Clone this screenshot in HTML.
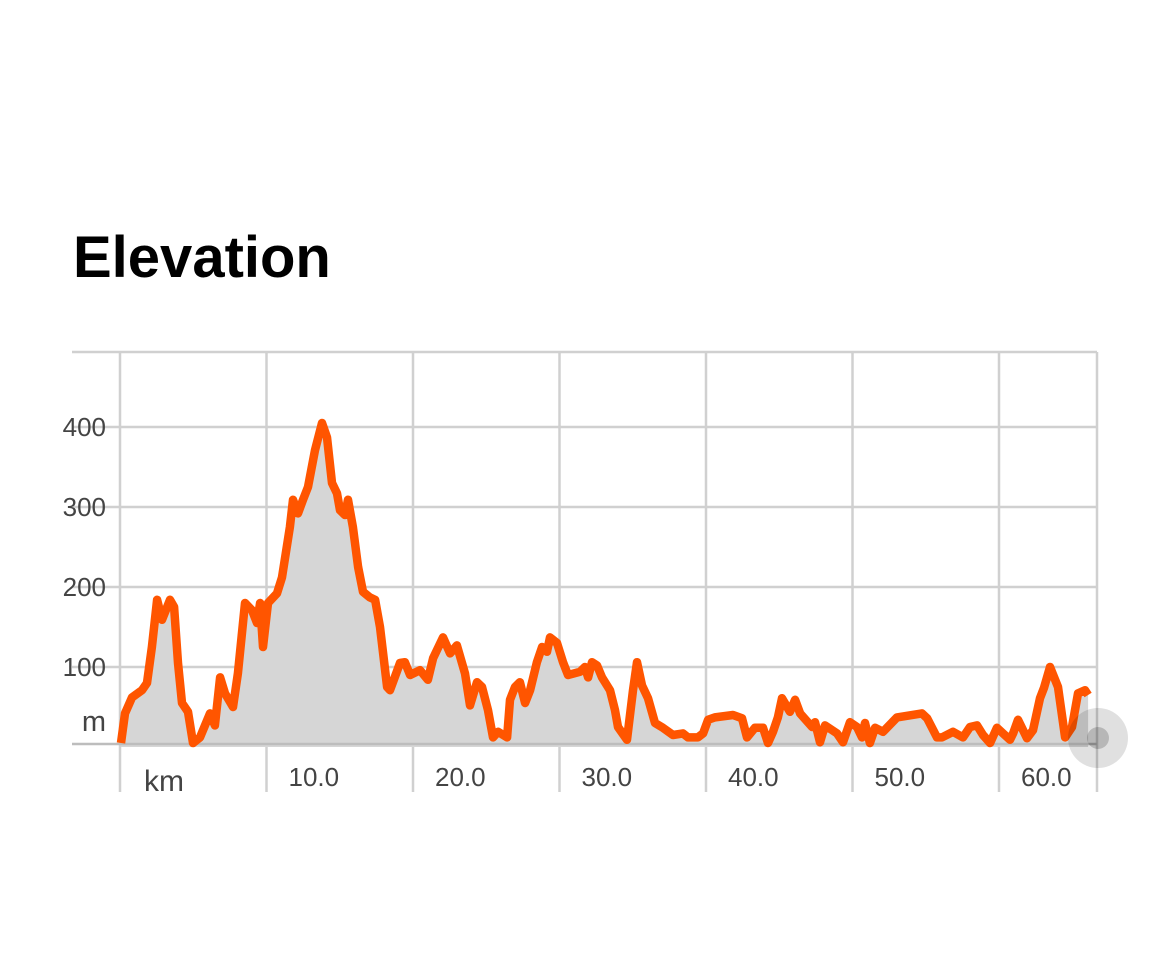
<!DOCTYPE html>
<html><head><meta charset="utf-8">
<style>
html,body{margin:0;padding:0;background:#fff;}
body{width:1170px;height:970px;overflow:hidden;font-family:"Liberation Sans",sans-serif;}
#title{position:absolute;left:73px;top:224px;font-size:58px;font-weight:bold;color:#000;margin:0;}
</style></head>
<body>
<h1 id="title">Elevation</h1>
<svg id="chart" width="1170" height="970" style="position:absolute;left:0;top:0" xmlns="http://www.w3.org/2000/svg"></svg>
<script>
const kmValues=[0.07,0.34,0.82,1.5,1.84,2.18,2.53,2.87,3.41,3.69,3.96,4.23,4.64,4.98,5.46,6.14,6.48,6.83,7.17,7.71,8.05,8.53,9.01,9.35,9.56,9.76,10.1,10.72,11.06,11.6,11.81,12.15,12.49,12.83,13.31,13.79,14.13,14.47,14.81,15.02,15.36,15.56,15.9,16.25,16.59,17.06,17.41,17.75,18.23,18.43,19.11,19.45,19.8,20.48,21.02,21.37,22.05,22.53,23.0,23.55,23.89,24.37,24.71,25.12,25.46,25.8,26.42,26.62,26.96,27.3,27.65,27.99,28.46,28.81,29.15,29.35,29.83,30.24,30.58,31.4,31.74,31.95,32.22,32.56,32.9,33.45,33.79,33.99,34.61,35.02,35.29,35.63,36.04,36.52,37.06,37.75,38.43,38.77,39.45,39.8,40.14,40.61,41.84,42.46,42.8,43.34,43.89,44.23,44.57,44.91,45.19,45.73,46.08,46.42,47.24,47.44,47.78,48.12,48.94,49.35,49.83,50.31,50.65,50.85,51.19,51.54,52.08,53.04,54.74,55.09,55.77,56.11,56.86,57.54,58.02,58.5,58.91,59.39,59.86,60.27,60.75,60.96,61.3,61.91,62.32,62.8,63.07,63.48,64.03,64.51,64.98,65.39,65.87,66.08];
const elevValues=[5,42,62,71,80,125,184,159,184,175,105,55,44,5,12,42,27,87,67,50,92,180,171,155,180,125,180,192,212,275,309,292,309,325,371,405,387,330,317,296,290,309,275,225,194,187,184,150,75,71,105,106,90,96,84,111,137,117,127,92,52,81,75,46,12,19,12,59,75,81,55,71,106,125,119,137,130,106,90,94,100,87,106,102,87,71,46,25,9,71,106,77,61,30,24,15,17,12,12,17,34,37,40,36,12,24,24,5,19,37,61,44,59,42,25,31,6,27,17,6,31,25,12,30,5,24,19,37,42,36,12,12,19,12,25,27,15,5,24,17,9,17,34,11,21,61,74,100,75,12,25,67,71,65,50];
const yTicks=[100,200,300,400];
const yTickLabels=["100","200","300","400"];
const xTicks=[10,20,30,40,50,60];
const xTickLabels=["10.0","20.0","30.0","40.0","50.0","60.0"];

const NS="http://www.w3.org/2000/svg";
const svg=document.getElementById('chart');
const X0=120, PXKM=14.65, Y0=747, PXM=0.8;
const xs=k=>X0+k*PXKM;
const ys=m=>Y0-m*PXM;
function mk(tag,attrs){const e=document.createElementNS(NS,tag);for(const k in attrs)e.setAttribute(k,attrs[k]);svg.appendChild(e);return e;}

let g=mk('line',{x1:72,x2:1097,y1:352,y2:352,stroke:'#d0d0d0','stroke-width':2.5});


yTicks.forEach((t,i)=>{
  const l=mk('line',{x1:72,x2:1097,y1:ys(t),y2:ys(t),stroke:'#d0d0d0','stroke-width':2.5});
  
  
  const tx=mk('text',{x:106,y:ys(t)+9,'text-anchor':'end','font-size':26,fill:'#444','font-family':'Liberation Sans, sans-serif'});
  tx.textContent=yTickLabels[i];
  
  
});
[0].concat(xTicks).forEach(t=>{
  const l=mk('line',{x1:xs(t),x2:xs(t),y1:352,y2:792,stroke:'#d0d0d0','stroke-width':2.5});
  
  
});
let rb=mk('line',{x1:1097,x2:1097,y1:352,y2:792,stroke:'#d0d0d0','stroke-width':2.5});


xTicks.forEach((t,i)=>{
  const tx=mk('text',{x:xs(t)+22,y:786,'font-size':26,fill:'#444','font-family':'Liberation Sans, sans-serif'});
  tx.textContent=xTickLabels[i];
  
  
});
let km=mk('text',{x:144,y:791,'font-size':30,fill:'#444','font-family':'Liberation Sans, sans-serif'});
km.textContent='km';


let mu=mk('text',{x:106,y:731,'text-anchor':'end','font-size':29,fill:'#444','font-family':'Liberation Sans, sans-serif'});
mu.textContent='m';



let d='';
kmValues.forEach((k,i)=>{d+=(i?'L':'M')+xs(k).toFixed(1)+','+ys(elevValues[i]).toFixed(1);});
const area=mk('path',{d:d+'L'+xs(kmValues[kmValues.length-1]).toFixed(1)+','+ys(0)+'L'+xs(kmValues[0]).toFixed(1)+','+ys(0)+'Z',fill:'#d6d6d6'});


let base=mk('line',{x1:72,x2:1097,y1:744,y2:744,stroke:'#bdbdbd','stroke-width':2.5});


const line=mk('path',{d:d,fill:'none',stroke:'#ff5500','stroke-width':8.5,'stroke-linejoin':'round','stroke-linecap':'butt'});



const h1=mk('circle',{cx:1098,cy:738,r:30,fill:'rgba(0,0,0,0.12)'});


const h2=mk('circle',{cx:1098,cy:738,r:11,fill:'rgba(0,0,0,0.18)'});


</script>
</body></html>
